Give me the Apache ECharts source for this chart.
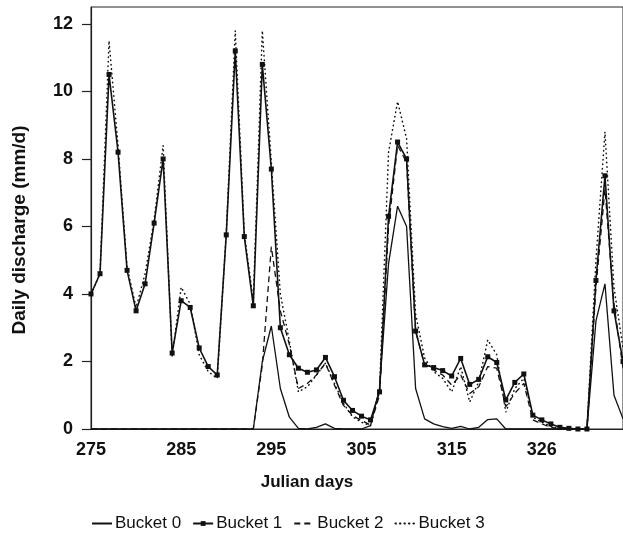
<!DOCTYPE html>
<html>
<head>
<meta charset="utf-8">
<script src="https://cdn.jsdelivr.net/npm/echarts@6/dist/echarts.min.js"></script>
<style>html,body{margin:0;padding:0;background:#fff}#c{width:623px;height:542px}</style>
</head>
<body>
<div id="c"></div>
<script>
// Julian days (day 325 is absent in the original series)
const days = [275,276,277,278,279,280,281,282,283,284,285,286,287,288,289,290,291,292,293,294,295,296,297,298,299,300,301,302,303,304,305,306,307,308,309,310,311,312,313,314,315,316,317,318,319,320,321,322,323,324,326,327,328,329,330,331,332,333,334,335];

const bucket0 = [0,0,0,0,0,0,0,0,0,0,0,0,0,0,0,0,0,0,0,2.0,3.05,1.2,0.35,0.02,0,0.05,0.15,0.02,0,0,0,0.1,1.2,4.9,6.6,6.0,1.2,0.3,0.15,0.07,0.02,0.08,0,0.05,0.28,0.3,0,0,0,0,0,0,0,0,0,0,3.2,4.3,1.0,0.3];

const bucket1 = [4.0,4.6,10.5,8.2,4.7,3.5,4.3,6.1,8.0,2.25,3.8,3.6,2.4,1.85,1.6,5.75,11.2,5.7,3.65,10.8,7.7,3.0,2.2,1.8,1.68,1.75,2.12,1.55,0.85,0.55,0.38,0.27,1.1,6.3,8.5,8.0,2.9,1.9,1.82,1.73,1.57,2.09,1.32,1.47,2.14,1.97,0.86,1.38,1.63,0.41,0.27,0.15,0.05,0.02,0,0,4.4,7.5,3.5,2.0];

const bucket2 = [0,0,0,0,0,0,0,0,0,0,0,0,0,0,0,0,0,0,0,1.9,5.4,3.5,2.5,1.2,1.35,1.6,1.95,1.3,0.7,0.4,0.25,0.12,1.0,6.0,8.4,7.9,2.9,1.9,1.75,1.6,1.3,1.6,1.05,1.25,1.85,1.8,0.66,1.06,1.35,0.27,0.15,0.05,0,0,0,0,4.2,7.1,3.7,1.8];

const bucket3 = [4.0,4.6,11.5,8.4,4.8,3.6,4.6,6.2,8.4,2.15,4.2,3.7,2.2,1.7,1.5,5.8,11.8,5.8,3.8,11.8,7.9,4.0,2.6,1.1,1.25,1.6,1.95,1.35,0.76,0.36,0.2,0.1,1.2,8.2,9.7,8.6,3.4,2.1,1.7,1.5,1.1,1.85,0.8,1.4,2.64,2.2,0.5,1.2,1.5,0.35,0.2,0.08,0,0,0,0,5.0,8.8,4.2,2.4];

const seriesNames = ['Bucket 0','Bucket 1','Bucket 2','Bucket 3'];
const yTicks = [0,2,4,6,8,10,12];

const FONT = '"Liberation Sans", Arial, Helvetica, sans-serif';
const noMark = {color: 'rgba(0,0,0,0)', borderWidth: 0};
const chart = echarts.init(document.getElementById('c'), null, {renderer:'canvas'});
chart.setOption({
  animation: false,
  backgroundColor: '#fff',
  grid: {left: 91, right: -5, top: 7, bottom: 113, show: true, borderColor: '#222', borderWidth: 1, containLabel: false},
  legend: {
    data: [
      {name: seriesNames[0], itemStyle: noMark},
      {name: seriesNames[1]},
      {name: seriesNames[2], itemStyle: noMark},
      {name: seriesNames[3], itemStyle: noMark}
    ],
    left: 86, top: 510,
    itemWidth: 20, itemHeight: 6, itemGap: 11,
    textStyle: {fontFamily: FONT, fontSize: 17, color: '#111', padding:[0,0,0,-2]}
  },
  xAxis: {
    type: 'category',
    data: days,
    boundaryGap: false,
    name: 'Julian days',
    nameLocation: 'middle',
    nameGap: 45,
    nameTextStyle: {fontFamily: FONT, fontSize: 17, fontWeight: 'bold', color: '#111', padding: [0, 100, 0, 0]},
    axisLine: {lineStyle: {color: '#222', width: 1}},
    axisTick: {show: false},
    axisLabel: {interval: function(i){ return i % 10 === 0; }, margin: 12, fontFamily: FONT, fontSize: 18, fontWeight: 'bold', color: '#111'},
    splitLine: {show: false}
  },
  yAxis: {
    type: 'value',
    min: 0, max: 12.5, interval: 2,
    name: 'Daily discharge (mm/d)',
    nameLocation: 'middle',
    nameGap: 62,
    nameTextStyle: {fontFamily: FONT, fontSize: 19, fontWeight: 'bold', color: '#111', padding: [0, 24, 0, 0]},
    axisLine: {show: true, lineStyle: {color: '#222', width: 1.2}},
    axisTick: {show: true, length: 9, customValues: yTicks, lineStyle: {color: '#222', width: 1.2}},
    axisLabel: {margin: 18, customValues: yTicks, fontFamily: FONT, fontSize: 18, fontWeight: 'bold', color: '#111',
      formatter: function(v){ return yTicks.indexOf(v) >= 0 ? String(v) : ''; }},
    splitLine: {show: false}
  },
  series: [
    {name: 'Bucket 0', type: 'line', data: bucket0, symbol: 'none', z: 3,
     lineStyle: {color: '#111', width: 1.3, type: 'solid'}, itemStyle: {color: '#111'}},
    {name: 'Bucket 1', type: 'line', data: bucket1, symbol: 'rect', symbolSize: 5, showSymbol: true, z: 4,
     lineStyle: {color: '#111', width: 1.6}, itemStyle: {color: '#111'}},
    {name: 'Bucket 2', type: 'line', data: bucket2, symbol: 'none', z: 2,
     lineStyle: {color: '#111', width: 1.3, type: [6, 4]}, itemStyle: {color: '#111'}},
    {name: 'Bucket 3', type: 'line', data: bucket3, symbol: 'none', z: 1,
     lineStyle: {color: '#111', width: 1.5, type: [0.5, 4], cap: 'round'}, itemStyle: {color: '#111'}}
  ]
});
</script>
</body>
</html>
